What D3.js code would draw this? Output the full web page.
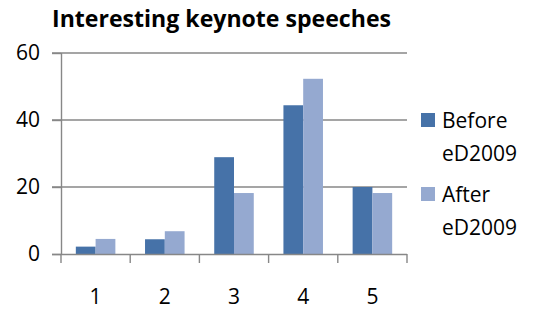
<!DOCTYPE html>
<html lang="en">
<head>
    <meta charset="UTF-8">
    <title>Interesting keynote speeches</title>
    <script src="https://d3js.org/d3.v7.min.js"></script>
    <style>
        body {
            margin: 0;
            background-color: #ffffff;
            font-family: "Open Sans", "Liberation Sans", sans-serif;
        }
        svg { display: block; }
        .grid line { stroke: #878787; stroke-width: 1.4px; }
        .axis path, .axis line { stroke: #878787; stroke-width: 1.4px; }
        .axis text { font-size: 21px; font-family: "Open Sans", sans-serif; fill: #000; }
    </style>
</head>
<body>
<svg width="550" height="311"></svg>

<script>
    // chart data
    let categories = ["1", "2", "3", "4", "5"];
    let seriesNames = ["Before eD2009", "After eD2009"];
    let beforeValues = [2.2, 4.4, 28.9, 44.4, 20.0];
    let afterValues = [4.5, 6.8, 18.2, 52.3, 18.2];
    let yTicks = [0, 20, 40, 60];
    let colors = ["#4672a8", "#95a9d0"];

    let svg = d3.select("svg");

    let margin = { left: 61, right: 143, top: 53, bottom: 57 };
    let width = 550 - margin.left - margin.right;
    let height = 311 - margin.top - margin.bottom;

    let g = svg.append("g")
        .attr("transform", `translate(${margin.left},${margin.top})`);

    let x = d3.scaleBand()
        .domain(categories)
        .range([0, width]);

    // two bars with a 150% gap width
    let inner = d3.scaleBand()
        .domain([0, 1])
        .range([0, x.bandwidth()])
        .paddingOuter(0.75)
        .paddingInner(0);

    let y = d3.scaleLinear()
        .domain([0, 60])
        .range([height, 0]);

    // gridlines
    g.append("g")
        .attr("class", "grid")
        .selectAll("line")
        .data(yTicks.filter(d => d > 0))
        .enter().append("line")
        .attr("x1", -9)
        .attr("x2", width)
        .attr("y1", d => y(d))
        .attr("y2", d => y(d));

    // bars
    let rows = categories.map((c, i) => ({ cat: c, vals: [beforeValues[i], afterValues[i]] }));

    let groups = g.selectAll(".grp")
        .data(rows)
        .enter().append("g")
        .attr("class", "grp")
        .attr("transform", d => `translate(${x(d.cat)},0)`);

    groups.selectAll("rect")
        .data(d => d.vals.map((v, k) => ({ v: v, k: k })))
        .enter().append("rect")
        .attr("x", d => inner(d.k))
        .attr("y", d => y(d.v))
        .attr("width", inner.bandwidth())
        .attr("height", d => height - y(d.v))
        .attr("fill", d => colors[d.k]);

    // y axis
    let yAxis = g.append("g")
        .attr("class", "axis")
        .call(d3.axisLeft(y).tickValues(yTicks).tickSize(9).tickSizeOuter(0).tickPadding(12));
    yAxis.select(".domain").attr("d", `M0.5,${height}V0`);
    yAxis.selectAll(".tick line").attr("x2", -9);

    // x axis
    let xAxis = g.append("g")
        .attr("class", "axis")
        .attr("transform", `translate(0,${height})`)
        .call(d3.axisBottom(x).tickSize(0).tickPadding(35));
    xAxis.select(".domain").attr("d", `M-9,0.5H${width}`);

    // category tick marks at band edges
    xAxis.selectAll(".sep")
        .data(categories.concat(["end"]))
        .enter().append("line")
        .attr("class", "sep")
        .attr("x1", (d, i) => i * x.bandwidth())
        .attr("x2", (d, i) => i * x.bandwidth())
        .attr("y1", 0)
        .attr("y2", 9)
        .attr("stroke", "#878787")
        .attr("stroke-width", 1.4);

    // title
    svg.append("text")
        .attr("x", 52)
        .attr("y", 27)
        .attr("font-size", "22.5px")
        .attr("font-weight", "bold")
        .attr("fill", "#000")
        .attr("textLength", 339)
        .attr("lengthAdjust", "spacingAndGlyphs")
        .text("Interesting keynote speeches");

    // legend
    let legend = svg.append("g")
        .attr("transform", "translate(421,113)");

    let items = legend.selectAll(".item")
        .data(seriesNames)
        .enter().append("g")
        .attr("class", "item")
        .attr("transform", (d, i) => `translate(0,${i * 74})`);

    items.append("rect")
        .attr("width", 14)
        .attr("height", 14)
        .attr("fill", (d, i) => colors[i]);

    items.each(function(d) {
        let parts = d.split(" ");
        let t = d3.select(this).append("text")
            .attr("x", 21)
            .attr("y", 15)
            .attr("font-size", "21px")
            .attr("fill", "#000");
        parts.forEach((p, j) => {
            t.append("tspan")
                .attr("x", 21)
                .attr("dy", j === 0 ? 0 : 32.5)
                .text(p);
        });
    });
</script>
</body>
</html>
